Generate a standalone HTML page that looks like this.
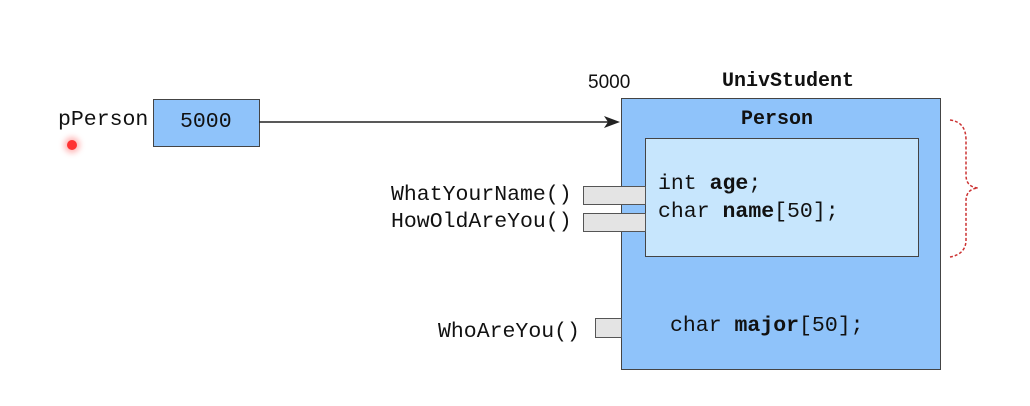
<!DOCTYPE html>
<html><head><style>
body{margin:0;width:1030px;height:406px;background:#fff;position:relative;overflow:hidden;font-family:"Liberation Mono",monospace;}
.a{position:absolute;}
.t{position:absolute;font-size:21.5px;color:#111;line-height:24px;white-space:pre;}
b{font-weight:bold;}
</style></head><body>
<div class="a" style="left:621px;top:98px;width:318px;height:270px;background:#8fc3fa;border:1.5px solid #444;"></div>
<div class="a" style="left:645px;top:138px;width:272px;height:117px;background:#c7e6fd;border:1.5px solid #444;"></div>
<div class="a" style="left:583px;top:186px;width:61px;height:17px;background:#e4e4e4;border:1.5px solid #555;"></div>
<div class="a" style="left:583px;top:213px;width:61px;height:17px;background:#e4e4e4;border:1.5px solid #555;"></div>
<div class="a" style="left:595px;top:318px;width:25px;height:18px;background:#e4e4e4;border:1.5px solid #555;"></div>
<div class="a" style="left:153px;top:99px;width:105px;height:46px;background:#8fc3fa;border:1.5px solid #444;"></div>
<div class="t" style="left:180px;top:110px;">5000</div>
<div class="t" style="left:58px;top:108px;">pPerson</div>
<div class="a" style="left:67px;top:140px;width:10px;height:10px;border-radius:50%;background:#f33;box-shadow:0 0 6px 3px rgba(255,80,80,.4);"></div>
<svg class="a" style="left:0;top:0" width="1030" height="406">
<line x1="259" y1="122" x2="612" y2="122" stroke="#222" stroke-width="1.5"/>
<path d="M604 116 L620 122 L604 128 L608 122Z" fill="#222"/>
<path d="M950 120 Q966 122 966 140 L966 175 Q966 187 978 188 Q966 189 966 201 L966 240 Q966 254 950 257" fill="none" stroke="#c33" stroke-width="1.5" stroke-dasharray="3,2"/>
</svg>
<div class="a" style="left:588px;top:72px;font-family:'Liberation Sans',sans-serif;font-size:19px;color:#111;">5000</div>
<div class="t" style="left:722px;top:70px;font-weight:bold;font-size:20px;">UnivStudent</div>
<div class="t" style="left:741px;top:108px;font-weight:bold;font-size:20px;">Person</div>
<div class="t" style="left:658px;top:172px;">int <b>age</b>;</div>
<div class="t" style="left:658px;top:200px;">char <b>name</b>[50];</div>
<div class="t" style="left:670px;top:314px;">char <b>major</b>[50];</div>
<div class="t" style="left:391px;top:183px;">WhatYourName()</div>
<div class="t" style="left:391px;top:210px;">HowOldAreYou()</div>
<div class="t" style="left:438px;top:320px;">WhoAreYou()</div>
</body></html>
